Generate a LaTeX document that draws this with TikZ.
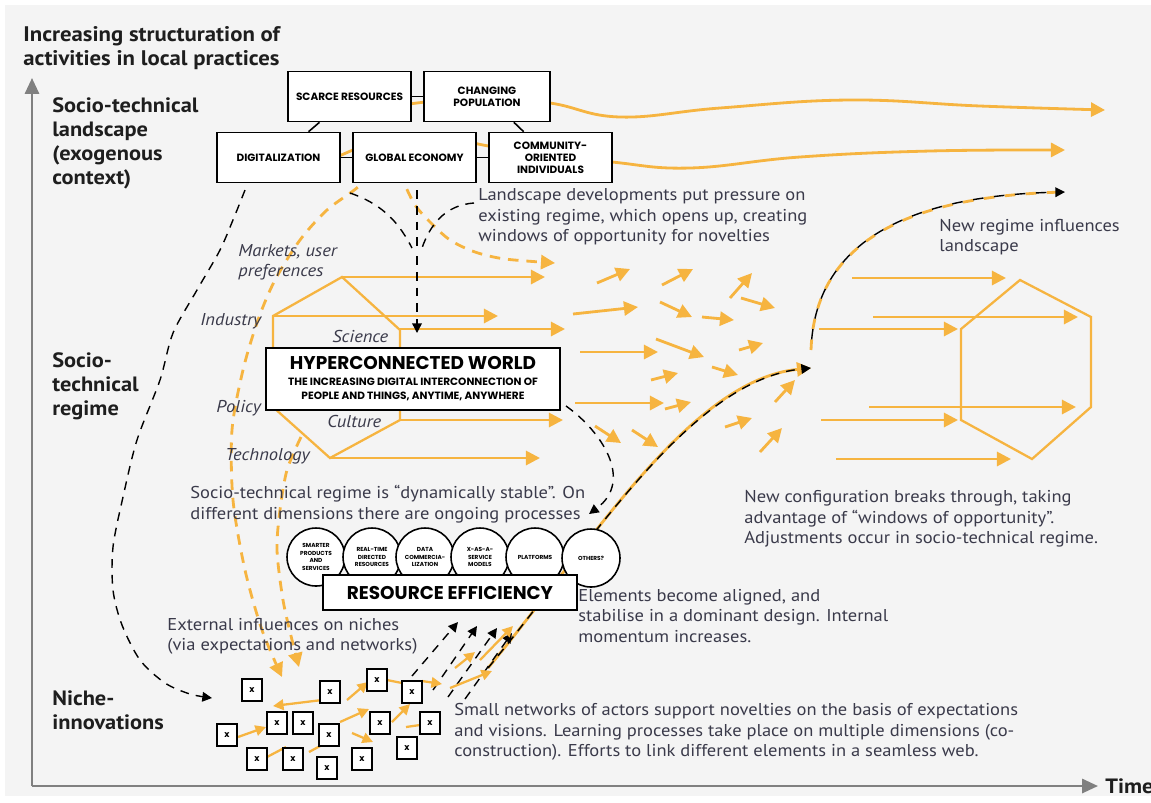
\documentclass[tikz,border=0pt]{standalone}
\usepackage{fontspec}
\setmainfont{PT Sans}[FakeStretch=1.08]
\newfontfamily\capsfont{Poppins}
\usetikzlibrary{arrows.meta}

\definecolor{bggray}{RGB}{244,244,244}
\definecolor{mlorange}{RGB}{246,180,64}
\definecolor{axisgray}{RGB}{128,128,128}
\definecolor{bodytext}{RGB}{58,58,74}
\definecolor{headtext}{RGB}{30,30,30}

\begin{document}
\begin{tikzpicture}[x=0.02cm, y=-0.02cm]
%style for landscape boxes
\tikzstyle{lbox} = [draw=black, line width=0.9pt, fill=white, inner sep=0pt, minimum width=2.46cm, minimum height=1cm, align=center, font=\capsfont\bfseries\fontsize{6}{6.9}\selectfont]

%style for process circles
\tikzstyle{pcircle} = [circle, draw=black, line width=0.9pt, fill=white, inner sep=0pt, minimum size=1.16cm, align=center, font=\capsfont\bfseries\fontsize{3.3}{4.2}\selectfont]

%style for niche boxes
\tikzstyle{xbox} = [draw=black, line width=0.8pt, fill=white, inner sep=0pt, minimum width=0.4cm, minimum height=0.44cm, font=\capsfont\bfseries\fontsize{5}{6}\selectfont]

%styles for texts
\tikzstyle{body} = [anchor=west, align=left, inner sep=0pt, text=bodytext, font=\fontsize{9.75}{11.6}\selectfont]
\tikzstyle{dimlabel} = [anchor=west, align=left, inner sep=0pt, text=bodytext, font=\itshape\fontsize{9.75}{11.4}\selectfont]
\tikzstyle{tier} = [anchor=west, align=left, inner sep=0pt, text=headtext, font=\bfseries\fontsize{11.8}{13.7}\selectfont]

%styles for lines
\tikzstyle{flow} = [draw=mlorange, line width=1.6pt, -{Triangle[length=8pt,width=8pt]}]
\tikzstyle{smallflow} = [draw=mlorange, line width=1.3pt, -{Triangle[length=6pt,width=6pt]}]
\tikzstyle{hexline} = [draw=mlorange, line width=1.3pt, line join=miter]
\tikzstyle{odash} = [draw=mlorange, line width=1.6pt, dash pattern=on 6pt off 4.5pt]
\tikzstyle{kdash} = [draw=black, line width=0.8pt, dash pattern=on 5pt off 4pt]
\tikzstyle{khead} = [-{Triangle[length=5.5pt,width=5.5pt]}]

%background
\useasboundingbox (0,0) rectangle (1151,802);
\fill[white] (0,0) rectangle (1151,802);
\fill[bggray] (5,5) rectangle (1151,796);

%axes
\coordinate (origin) at (32,786);
\coordinate (ytip) at (32,78);
\coordinate (xtip) at (1098,786);
\draw[axisgray, line width=1.4pt, -{Triangle[length=9pt,width=8pt]}] (origin) -- (ytip);
\draw[axisgray, line width=1.4pt, -{Triangle[length=9pt,width=8pt]}] (origin) -- (xtip);
\node[tier] (time) at (1105,786) {Time};

%landscape lines behind the boxes
\draw[flow] plot[smooth, tension=0.7] coordinates {(395,107) (417,103) (480,97) (550,103) (620,117) (720,108) (850,100) (980,106) (1105,110)};
\draw[flow] plot[smooth, tension=0.7] coordinates {(460,139) (483,145) (530,152) (612,162) (690,168) (800,157) (930,151) (1065,150)};
\draw[mlorange, line width=1.6pt] (330,160) -- (362,146);

%regime hexagons
\draw[hexline] (342,277) -- (400,330) -- (400,420) -- (330,458) -- (273,407) -- (273,316) -- cycle;
\draw[hexline] (1020,280) -- (1091,317) -- (1091,407) -- (1032,459) -- (961,420) -- (961,329) -- cycle;

%arrows of the old regime
\draw[flow] (342,277) -- (545,277);
\draw[flow] (273,316) -- (498,316);
\draw[flow] (400,329) -- (565,329);
\draw[flow] (400,420) -- (563,420);
\draw[flow] (330,458) -- (540,458);

%arrows opening up
\draw[flow] (597,283) -- (630,269);
\draw[flow] (662,285) -- (693,269);
\draw[flow] (730,298) -- (752,273);
\draw[flow] (573,314) -- (638,307);
\draw[flow] (660,302) -- (692,317);
\draw[flow] (702,317) -- (734,320);
\draw[flow] (741,298) -- (775,308);
\draw[flow] (580,352) -- (658,352);
\draw[flow] (656,339) -- (704,357);
\draw[flow] (739,350) -- (763,343);
\draw[flow] (651,380) -- (678,373);
\draw[flow] (712,367) -- (738,375);
\draw[flow] (575,403) -- (664,403);
\draw[flow] (665,409) -- (691,402);
\draw[flow] (595,426) -- (621,443);
\draw[flow] (632,430) -- (658,447);
\draw[flow] (725,427) -- (752,418);
\draw[flow] (775,402) -- (795,380);
\draw[flow] (760,452) -- (782,428);

%arrows of the new regime
\draw[flow] (852,278) -- (1006,278);
\draw[flow] (873,317) -- (1078,317);
\draw[flow] (819,329) -- (958,329);
\draw[flow] (869,407) -- (1076,407);
\draw[flow] (821,420) -- (958,420);
\draw[flow] (836,459) -- (1011,459);

% dashed landscape influences
\draw[odash, -{Triangle[length=8pt,width=8pt]}] plot[smooth] coordinates {(368,172) (358,187) (327,210) (300,240) (275,280) (258,320) (243,370) (232,430) (233,500) (245,570) (262,630) (282,677)};
\draw[odash, -{Triangle[length=8pt,width=8pt]}] plot[smooth] coordinates {(301,437) (287,470) (280,510) (277,550) (283,600) (292,640) (299,667)};
\draw[odash, -{Triangle[length=8pt,width=8pt]}] plot[smooth] coordinates {(400,172) (405,185) (415,205) (430,222) (450,240) (475,252) (505,259) (555,263)};

% breakthrough curve and feedback to landscape
\draw[flow] (488,668) .. controls (590,545) and (690,380) .. (811,368);
\draw[kdash, khead] (488,668) .. controls (590,545) and (690,380) .. (811,368);
\draw[draw=mlorange, line width=1.6pt, dash pattern=on 6pt off 6pt] (811,350) .. controls (815,230) and (930,195) .. (1065,192);
\draw[kdash, dash pattern=on 6pt off 6pt, dash phase=6pt, khead] (811,350) .. controls (815,230) and (930,195) .. (1065,192);

% black dashed pressure lines
\draw[kdash] (350,193) .. controls (385,205) and (400,225) .. (412,248);
\draw[kdash] (417,190) -- (417,248);
\draw[kdash] (474,203) .. controls (445,205) and (430,225) .. (422,248);
\draw[kdash, khead] (417,256) -- (417,333);
\draw[kdash, khead] (566,406) .. controls (600,430) and (635,480) .. (589,514);
\draw[kdash, khead] plot[smooth] coordinates {(245,190) (235,215) (220,250) (197,290) (173,333) (160,380) (137,440) (123,497) (113,547) (113,590) (122,625) (140,660) (165,683) (190,694) (212,698)};

% niche arrows up to the dominant design
\draw[kdash, khead] (412,676) -- (458,622);
\draw[kdash, khead] (433,690) -- (477,626);
\draw[kdash, khead] (448,697) -- (497,628);
\draw[kdash, khead] (465,699) -- (512,633);

%place landscape boxes
\node[lbox] (scarce) at (349.5,96.5) {SCARCE RESOURCES};
\node[lbox, minimum width=2.52cm] (changing) at (487,96.5) {CHANGING\\POPULATION};
\node[lbox] (digital) at (278.5,157.5) {DIGITALIZATION};
\node[lbox] (global) at (414.5,157.5) {GLOBAL ECONOMY};
\node[lbox] (community) at (550.5,157.5) {COMMUNITY-\\ORIENTED\\INDIVIDUALS};

%connect landscape boxes
\draw[line width=0.9pt] (scarce) -- (changing);
\draw[line width=0.9pt] (scarce) -- (digital);
\draw[line width=0.9pt] (changing) -- (community);
\draw[line width=0.9pt] (digital) -- (global);
\draw[line width=0.9pt] (global) -- (community);

%regime box
\node[draw=black, line width=0.9pt, fill=white, inner sep=0pt, minimum width=5.88cm, minimum height=1.24cm, align=center, font=\capsfont\bfseries\fontsize{6}{8}\selectfont] (hyper) at (413,379)
  {{\fontsize{10.5}{12}\selectfont HYPERCONNECTED WORLD}\\[1.1pt]
   THE INCREASING DIGITAL INTERCONNECTION OF\\
   PEOPLE AND THINGS, ANYTIME, ANYWHERE};

%process circles
\node[pcircle] (smarter) at (316,557) {SMARTER\\PRODUCTS\\AND\\SERVICES};
\node[pcircle] (realtime) at (372,557) {REAL-TIME\\DIRECTED\\RESOURCES};
\node[pcircle] (data) at (425,557) {DATA\\COMMERCIA-\\LIZATION};
\node[pcircle] (xaas) at (480,557) {X-AS-A-\\SERVICE\\MODELS};
\node[pcircle] (platforms) at (535,557) {PLATFORMS};
\node[pcircle] (others) at (591,558) {OTHERS?};
\node[draw=black, line width=0.9pt, fill=white, inner sep=0pt, minimum width=5.08cm, minimum height=0.7cm, font=\capsfont\bfseries\fontsize{10.5}{12}\selectfont] (efficiency) at (450,592.5) {RESOURCE EFFICIENCY};

%niche arrows
\draw[smallflow] (238,737) -- (266,727);
\draw[mlorange, line width=1.3pt] (267,757) -- (286,747);
\draw[mlorange, line width=1.3pt] (309,752) -- (322,745);
\draw[smallflow] (322,700) -- (273,706);
\draw[smallflow] (347,700) -- (368,682);
\draw[mlorange, line width=1.3pt] (387,680) -- (402,683);
\draw[smallflow] (422,681) -- (442,684);
\draw[smallflow] (340,722) -- (369,709);
\draw[smallflow] (352,733) -- (373,742);
\draw[smallflow] (392,722) -- (410,704);
\draw[mlorange, line width=1.3pt] (406,727) -- (420,725);
\draw[smallflow] (450,688) -- (492,671);
\draw[smallflow] (455,668) -- (475,652);
\draw[smallflow] (480,660) -- (513,626);

%niche boxes
\node[xbox] (n1) at (252,690) {x};
\node[xbox] (n2) at (330,692) {x};
\node[xbox] (n3) at (377,680) {x};
\node[xbox] (n4) at (412,692) {x};
\node[xbox] (n5) at (227,735) {x};
\node[xbox] (n6) at (277,723) {x};
\node[xbox] (n7) at (303,723) {x};
\node[xbox] (n8) at (329,735) {x};
\node[xbox] (n9) at (380,723) {x};
\node[xbox] (n10) at (430,723) {x};
\node[xbox] (n11) at (257,759) {x};
\node[xbox] (n12) at (293,759) {x};
\node[xbox] (n13) at (327,768) {x};
\node[xbox] (n14) at (362,759) {x};
\node[xbox] (n15) at (407,748) {x};

%level names
\node[tier, font=\bfseries\fontsize{12}{13.7}\selectfont] (ytitle) at (23,48) {Increasing structuration of\\activities in local practices};
\node[tier] (landscape) at (52,143) {Socio-technical\\landscape\\(exogenous\\context)};
\node[tier] (regime) at (52,386) {Socio-\\technical\\regime};
\node[tier] (niche) at (52,710) {Niche-\\innovations};

%regime dimensions
\node[dimlabel] (markets) at (238,262) {Markets, user\\preferences};
\node[dimlabel] (industry) at (200,321) {Industry};
\node[dimlabel] (science) at (332,336) {Science};
\node[dimlabel] (policy) at (216,408) {Policy};
\node[dimlabel] (culture) at (327,421) {Culture};
\node[dimlabel] (technology) at (225,456) {Technology};

%explanations
\node[body] (pressure) at (478,217) {Landscape developments put pressure on\\existing regime, which opens up, creating\\windows of opportunity for novelties};
\node[body] (feedback) at (939,237) {New regime influences\\landscape};
\node[body] (stable) at (190,504) {Socio-technical regime is “dynamically stable”. On\\different dimensions there are ongoing processes};
\node[body] (breaks) at (744,519) {New configuration breaks through, taking\\advantage of “windows of opportunity”.\\Adjustments occur in socio-technical regime.};
\node[body] (aligned) at (578,616) {Elements become aligned, and\\stabilise in a dominant design. Internal\\momentum increases.};
\node[body] (external) at (167,636) {External influences on niches\\(via expectations and networks)};
\node[body] (networks) at (454,732) {Small networks of actors support novelties on the basis of expectations\\and visions. Learning processes take place on multiple dimensions (co-\\construction). Efforts to link different elements in a seamless web.};
\end{tikzpicture}
\end{document}
